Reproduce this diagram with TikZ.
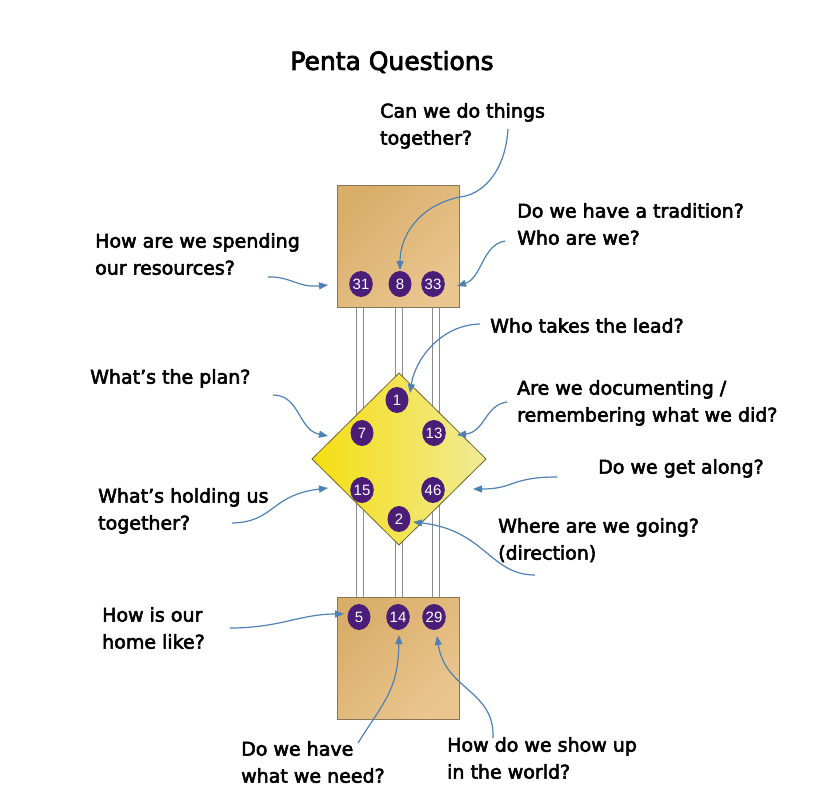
\documentclass[tikz,border=0pt]{standalone}
\usepackage{fontspec}
\setmainfont{DejaVu Sans}[FakeBold=3]
\newfontfamily\numfont{Liberation Sans}
\usetikzlibrary{arrows.meta,shapes.geometric}
\definecolor{tanA}{HTML}{D9AE6A}
\definecolor{tanB}{HTML}{EAC58F}
\definecolor{boxedge}{HTML}{8A7656}
\definecolor{yelA}{HTML}{F4DE10}
\definecolor{yelB}{HTML}{F1EA98}
\definecolor{diaedge}{HTML}{6E6530}
\definecolor{purp}{HTML}{4A1E78}
\definecolor{arr}{HTML}{4F81B5}
\definecolor{rod}{HTML}{8C8C8C}
\begin{document}
\begin{tikzpicture}[x=1pt,y=-1pt,
  q/.style={anchor=north west,inner sep=0pt,align=left,font=\fontsize{19}{27}\selectfont},
  num/.style={ellipse,fill=purp,minimum width=23pt,minimum height=26pt,inner sep=0pt,text=white,font=\numfont\fontsize{15}{15}\selectfont},
  qa/.style={draw=arr,line width=1.2pt,-{Triangle[length=9pt,width=7pt]}},
  rodline/.style={draw=rod,line width=0.7pt},
  boxst/.style={draw=boxedge,line width=1pt,left color=tanA,right color=tanB,shading angle=45,minimum width=122pt,minimum height=122pt,inner sep=0pt}]
\fill[white] (0,0) rectangle (839,803);
\useasboundingbox (0,0) rectangle (839,803);
% rods
\foreach \x in {356,363,395,402,432,439}{\draw[rodline] (\x,307) -- (\x,597);}
% boxes
\node[boxst] (topbox) at (398,246) {};
\node[boxst] (botbox) at (398,658) {};
% diamond
\shadedraw[draw=diaedge,line width=0.8pt,left color=yelA,right color=yelB] (399,373) -- (486,459) -- (399,545) -- (312,459) -- cycle;
% numbers
\node[num] (n31) at (361,284) {31};
\node[num] (n8) at (400,284) {8};
\node[num] (n33) at (433,284) {33};
\node[num] (n1) at (397,400) {1};
\node[num] (n7) at (362,433) {7};
\node[num] (n13) at (434,433) {13};
\node[num] (n15) at (362,490) {15};
\node[num] (n46) at (433,490) {46};
\node[num] (n2) at (399,519) {2};
\node[num] (n5) at (359,617) {5};
\node[num] (n14) at (398,617) {14};
\node[num] (n29) at (434,617) {29};
% title
\node[font=\fontsize{25}{30}\selectfont,inner sep=0pt] (title) at (392,62) {Penta Questions};
% questions
\node[q] (tcan) at (380,103) {Can we do things\\together?};
\node[q] (tspend) at (95,233) {How are we spending\\our resources?};
\node[q] (ttrad) at (517,203) {Do we have a tradition?\\Who are we?};
\node[q] (tlead) at (490,318) {Who takes the lead?};
\node[q] (tplan) at (90,369) {What’s the plan?};
\node[q] (tdoc) at (517,380) {Are we documenting /\\remembering what we did?};
\node[q] (talong) at (598,459) {Do we get along?};
\node[q] (thold) at (98,488) {What’s holding us\\together?};
\node[q] (twhere) at (498,518) {Where are we going?\\(direction)};
\node[q] (thome) at (102,607) {How is our\\home like?};
\node[q] (tneed) at (241,741) {Do we have\\what we need?};
\node[q] (tshow) at (447,737) {How do we show up\\in the world?};
% arrow coordinates
\coordinate (s8) at (508,129);   \coordinate (e8) at (400,270);
\coordinate (s31) at (268,277);  \coordinate (e31) at (328,285);
\coordinate (s33) at (505,241);  \coordinate (e33) at (457,286);
\coordinate (s1) at (480,324);   \coordinate (e1) at (410,393);
\coordinate (s13) at (507,402);  \coordinate (e13) at (457,435);
\coordinate (s7) at (273,395);   \coordinate (e7) at (328,436);
\coordinate (s15) at (232,523);  \coordinate (e15) at (328,488);
\coordinate (s46) at (557,477);  \coordinate (e46) at (473,489);
\coordinate (s2) at (535,575);   \coordinate (e2) at (413,522);
\coordinate (s5) at (230,628);   \coordinate (e5) at (344,614);
\coordinate (s14) at (358,743);  \coordinate (e14) at (399,635);
\coordinate (s29) at (493,738);  \coordinate (e29) at (437,636);
% arrows
\draw[qa] (s8) .. controls (505,175) and (480,195) .. (460,197) .. controls (420,205) and (400,235) .. (e8);
\draw[qa] (s31) .. controls (290,276) and (298,288) .. (e31);
\draw[qa] (s33) .. controls (482,245) and (482,278) .. (e33);
\draw[qa] (s1) .. controls (440,325) and (415,360) .. (e1);
\draw[qa] (s13) .. controls (485,405) and (485,432) .. (e13);
\draw[qa] (s7) .. controls (300,395) and (298,430) .. (e7);
\draw[qa] (s15) .. controls (275,522) and (270,495) .. (e15);
\draw[qa] (s46) .. controls (510,477) and (515,489) .. (e46);
\draw[qa] (s2) .. controls (490,575) and (485,530) .. (e2);
\draw[qa] (s5) .. controls (280,628) and (300,614) .. (e5);
\draw[qa] (s14) .. controls (385,700) and (398,690) .. (e14);
\draw[qa] (s29) .. controls (495,690) and (445,690) .. (e29);
\end{tikzpicture}
\end{document}
